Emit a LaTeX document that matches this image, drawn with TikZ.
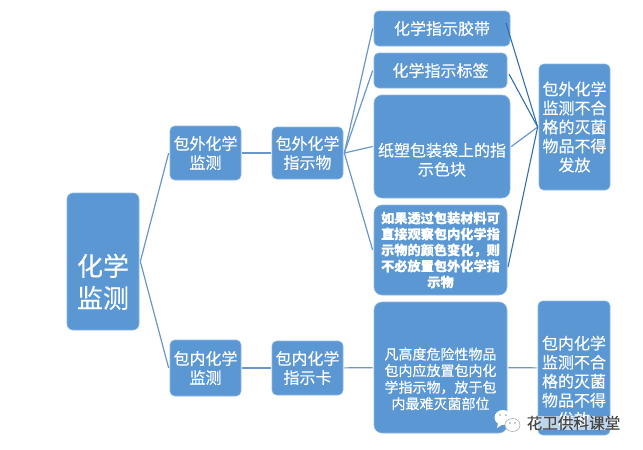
\documentclass[tikz,border=0pt]{standalone}
\usepackage{fontspec}
\setmainfont[FakeBold=0.3]{Noto Sans CJK SC}
\definecolor{boxblue}{HTML}{5B97D3}
\definecolor{boxedge}{HTML}{8DB8E2}
\definecolor{linkblue}{HTML}{6A97C8}
\definecolor{linkdark}{HTML}{2F6EA8}
\tikzset{
  box/.style={fill=boxblue,draw=boxedge,line width=0.4pt,text=white,align=center,
    rounded corners=3.5pt,inner sep=0pt,outer sep=1pt,font=\fontsize{12}{14.25}\selectfont},
  size/.style 2 args={minimum width=#1*0.75pt,minimum height=#2*0.75pt},
  link/.style={linkblue,line width=0.9pt},
  linkback/.style={linkdark,line width=0.8pt},
  marktext/.style={inner xsep=1pt,inner ysep=0pt,fill=white,fill opacity=0.6,text opacity=1,
    text=black!72,font=\fontsize{11.7}{14}\selectfont}
}
\newcommand{\pushdown}[1]{\rule{0pt}{#1}}
\begin{document}
\begin{tikzpicture}[x=0.75pt,y=-0.75pt]
  \useasboundingbox (0,0) rectangle (643,450);
  % left part
  \node[box,size={72}{137},rounded corners=4.5pt,font=\fontsize{19.5}{24}\selectfont] (root) at (103,261.5) {\pushdown{47pt}化学\\监测};
  \node[box,size={71}{54}] (outer) at (205.5,153) {包外化学\\监测};
  \node[box,size={71}{52}] (outerind) at (307.5,153) {包外化学\\指示物};
  \node[box,size={71}{56}] (inner) at (205.5,368) {包内化学\\监测};
  \node[box,size={71}{54}] (innerind) at (307.5,368) {包内化学\\指示卡};
  % middle column
  \node[box,size={136}{35}] (tape) at (442,28.5) {化学指示胶带};
  \node[box,size={133}{35}] (tag) at (440.5,70.5) {化学指示标签};
  \node[box,size={136}{103},rounded corners=6pt] (block) at (442,146.5) {\pushdown{30pt}纸塑包装袋上的指\\示色块};
  \node[box,size={133}{90},rounded corners=6pt,font=\fontsize{9.9}{12}\selectfont\bfseries] (note) at (440.5,250) {如果透过包装材料可\\直接观察包内化学指\\示物的颜色变化，则\\不必放置包外化学指\\示物};
  \node[box,size={133}{131},rounded corners=6pt,font=\fontsize{10.5}{12.4}\selectfont] (high) at (440.5,367.5) {\pushdown{26pt}凡高度危险性物品\\包内应放置包内化\\学指示物，放于包\\内最难灭菌部位};
  % right column
  \node[box,size={71}{126}] (resout) at (574.5,127) {包外化学\\监测不合\\格的灭菌\\物品不得\\发放};
  \node[box,size={72}{134}] (resin) at (574,368) {\pushdown{30pt}包内化学\\监测不合\\格的灭菌\\物品不得\\发放};
  \coordinate (tapeout) at (506,23);
  \coordinate (tagout) at (509,74);
  \coordinate (noteout) at (508,267);
  % connectors
  \foreach \a/\b in {root.east/outer.west, root.east/inner.west, outer/outerind, inner/innerind,
                     outerind.east/tape.west, outerind.east/tag.west, outerind.east/block.west,
                     outerind.east/note.west, innerind/high, high/resin, block.east/resout.west} {
    \draw[link] (\a) -- (\b);
  }
  \foreach \a in {tapeout, tagout, noteout} {
    \draw[linkback] (\a) -- (resout.west);
  }
  % watermark
  \fill[white] (503,417.5) ellipse (8.5 and 7.5);
  \fill[white] (498,423) -- (497,428) -- (503,424) -- cycle;
  \draw[fill=white,draw=gray!70,line width=0.4pt] (512.5,425) ellipse (7.5 and 6.5);
  \foreach \x in {500,506} {
    \fill[gray!60] (\x,415) circle (1);
  }
  \foreach \x in {510,515} {
    \fill[gray!80] (\x,423) circle (0.8);
  }
  \node[marktext] (mark) at (573.5,423) {花卫供科课堂};
\end{tikzpicture}
\end{document}
